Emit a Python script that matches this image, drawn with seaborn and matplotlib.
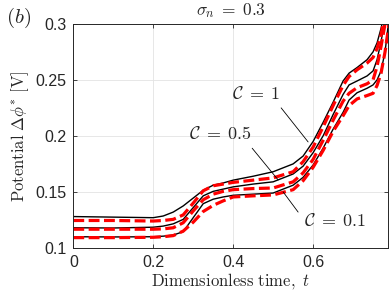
import numpy as np
import pandas as pd
import seaborn as sns
import matplotlib
matplotlib.use("Agg")
import matplotlib.pyplot as plt

# time grid (dimensionless)
t = [0, 0.1, 0.2, 0.225, 0.25, 0.275, 0.3, 0.325, 0.35, 0.375, 0.4, 0.45, 0.5,
     0.55, 0.575, 0.6, 0.625, 0.65, 0.675, 0.69, 0.71, 0.735, 0.75, 0.76, 0.77, 0.78, 0.79]

# solid black curves
black_c1 = [.128, .1275, .127, .1285, .132, .1375, .1445, .1515, .156, .158, .1605, .164, .168,
            .175, .182, .195, .212, .230, .249, .256, .261, .268, .275, .283, .296, .312, .33]
black_c05 = [.118, .1178, .1185, .1195, .1215, .1255, .136, .1465, .1505, .1525, .1545, .157, .159,
             .166, .173, .185, .2, .219, .237, .2455, .249, .2535, .258, .268, .284, .305, .33]
black_c01 = [.110, .1098, .110, .1105, .1115, .1145, .127, .1395, .1435, .1455, .147, .148, .149,
             .156, .163, .174, .189, .206, .221, .232, .2385, .2425, .2455, .250, .258, .275, .305]

# red dashed curves
red_c1 = [.1245, .1245, .124, .1245, .1255, .1295, .14, .151, .1555, .157, .1585, .1605, .1625,
          .168, .177, .19, .208, .227, .245, .253, .259, .265, .27, .278, .29, .31, .33]
red_c05 = [.1167, .1167, .1167, .117, .118, .1225, .133, .143, .148, .1505, .152, .153, .1535,
           .159, .167, .179, .196, .214, .231, .238, .243, .2465, .25, .262, .28, .30, .33]
red_c01 = [.1092, .1092, .1095, .11, .111, .115, .123, .1325, .138, .142, .1455, .1465, .1473,
           .152, .16, .172, .187, .204, .218, .227, .233, .236, .238, .245, .256, .275, .30]

xticks = [0, 0.2, 0.4, 0.6]
yticks = [0.1, 0.15, 0.2, 0.25, 0.3]
ytick_labels = ["0.1", "0.15", "0.2", "0.25", "0.3"]

sns.set_style("ticks")
plt.rcParams["font.family"] = ["Liberation Sans", "DejaVu Sans"]
plt.rcParams["mathtext.fontset"] = "cm"

fig = plt.figure(figsize=(3.9, 2.98), dpi=100)
ax = fig.add_axes([0.188, 0.168, 0.807, 0.752])

for ys in [black_c1, black_c05, black_c01]:
    sns.lineplot(x=t, y=ys, color="black", lw=1.0, ax=ax)
for ys in [red_c1, red_c05, red_c01]:
    sns.lineplot(x=t, y=ys, color="red", lw=2.3, ax=ax)
    ax.lines[-1].set_dashes((3.4, 1.4))

ax.set_xlim(0, 0.7875)
ax.set_ylim(0.1, 0.3)
ax.set_xticks(xticks)
ax.set_xticklabels(["0", "0.2", "0.4", "0.6"])
ax.set_yticks(yticks)
ax.set_yticklabels(ytick_labels)
ax.grid(True, color="#e3e3e3", lw=0.6)
ax.set_axisbelow(True)
ax.tick_params(direction="in", length=3, width=0.6, top=True, right=True,
               labelsize=11.5, colors="#262626", pad=5)
for s in ax.spines.values():
    s.set_visible(True)
    s.set_color("#262626")
    s.set_linewidth(0.7)

ax.set_xlabel(r"$\mathrm{Dimensionless\ time,}\ t$", fontsize=12, labelpad=1)
ax.set_ylabel(r"$\mathrm{Potential}\ \Delta\phi^{*}\ [\mathrm{V}]$", fontsize=12, labelpad=3)
ax.set_title(r"$\sigma_n \;=\; 0.3$", fontsize=12.5, pad=6)
fig.text(0.047, 0.94, r"$(b)$", fontsize=15, ha="center", va="center")

# annotations
lab_fs = 13
ax.text(0.4575, 0.2366, r"$\mathcal{C} \;=\; 1$", fontsize=lab_fs, ha="center", va="center")
ax.annotate("", xy=(0.5875, 0.1946), xytext=(0.52, 0.225),
            arrowprops=dict(arrowstyle="-", lw=0.6, color="black", shrinkA=0, shrinkB=0))
ax.text(0.3675, 0.201, r"$\mathcal{C} \;=\; 0.5$", fontsize=lab_fs, ha="center", va="center")
ax.annotate("", xy=(0.5125, 0.1607), xytext=(0.4475, 0.189),
            arrowprops=dict(arrowstyle="-", lw=0.6, color="black", shrinkA=0, shrinkB=0))
ax.text(0.655, 0.1232, r"$\mathcal{C} \;=\; 0.1$", fontsize=lab_fs, ha="center", va="center")
ax.annotate("", xy=(0.525, 0.15), xytext=(0.5625, 0.132),
            arrowprops=dict(arrowstyle="-", lw=0.6, color="black", shrinkA=0, shrinkB=0))

fig.savefig("out.png", dpi=100)
